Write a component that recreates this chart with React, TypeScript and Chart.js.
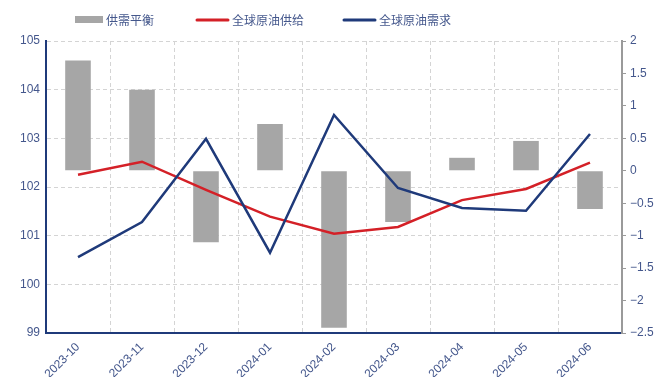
import React, { useEffect, useRef } from 'react';
import { Chart, registerables } from 'chart.js';

Chart.register(...registerables);

const categories = ['2023-10', '2023-11', '2023-12', '2024-01', '2024-02', '2024-03', '2024-04', '2024-05', '2024-06'];
const balance = [1.7, 1.25, -1.1, 0.72, -2.42, -0.79, 0.2, 0.46, -0.59];
const supply = [102.25, 102.52, 101.94, 101.39, 101.04, 101.18, 101.73, 101.96, 102.5];
const demand = [100.56, 101.28, 102.99, 100.65, 103.48, 101.98, 101.57, 101.51, 103.09];
const seriesNames = ['供需平衡', '全球原油供给', '全球原油需求'];

const TICK_COLOR = '#44578c';
const NAVY = '#1f3a7a';
const RED = '#d42027';
const GRAY_BAR = '#a6a6a6';
const GRID = '#d4d4d4';

const legendPlugin = {
  id: 'customLegend',
  afterDraw(chart: any) {
    const ctx = chart.ctx;
    const ds = chart.data.datasets;
    const items = [
      { sx: 75, tx: 106, kind: 'box' },
      { sx: 197, tx: 232, kind: 'line' },
      { sx: 344, tx: 379, kind: 'line' },
    ];
    ctx.save();
    ctx.font = '12px "Noto Sans CJK SC", sans-serif';
    ctx.textBaseline = 'middle';
    ctx.textAlign = 'left';
    items.forEach((it, i) => {
      const d = ds[i];
      if (it.kind === 'box') {
        ctx.fillStyle = d.backgroundColor;
        ctx.fillRect(it.sx, 16, 28, 7);
      } else {
        ctx.strokeStyle = d.borderColor;
        ctx.lineWidth = 3;
        ctx.lineCap = 'round';
        ctx.beginPath();
        ctx.moveTo(it.sx, 20);
        ctx.lineTo(it.sx + 31, 20);
        ctx.stroke();
      }
      ctx.fillStyle = TICK_COLOR;
      ctx.fillText(d.label, it.tx, 20);
    });
    ctx.restore();
  },
};

const fmt = (v: any) => String(Number(v)).replace('-', '−');

export default function App() {
  const ref = useRef<HTMLCanvasElement>(null);
  useEffect(() => {
    if (!ref.current) return;
    const tickFont = { family: 'Arial, "Liberation Sans", sans-serif', size: 12 };
    const chart = new Chart(ref.current, {
      type: 'bar',
      data: {
        labels: categories,
        datasets: [
          {
            type: 'bar',
            label: seriesNames[0],
            data: balance,
            yAxisID: 'y1',
            backgroundColor: GRAY_BAR,
            borderWidth: 0,
            categoryPercentage: 0.8,
            barPercentage: 0.5,
            order: 2,
          },
          {
            type: 'line',
            label: seriesNames[1],
            data: supply,
            yAxisID: 'y',
            borderColor: RED,
            backgroundColor: RED,
            borderWidth: 2.5,
            pointRadius: 0,
            tension: 0,
            order: 1,
          },
          {
            type: 'line',
            label: seriesNames[2],
            data: demand,
            yAxisID: 'y',
            borderColor: NAVY,
            backgroundColor: NAVY,
            borderWidth: 2.5,
            pointRadius: 0,
            tension: 0,
            order: 0,
          },
        ] as any,
      },
      options: {
        animation: false,
        responsive: true,
        maintainAspectRatio: false,
        layout: { padding: { top: 41, left: 0, right: 0, bottom: 0 } },
        plugins: {
          legend: { display: false },
          tooltip: { enabled: false },
        },
        scales: {
          x: {
            offset: true,
            grid: {
              offset: true,
              color: GRID,
              lineWidth: 1,
              drawTicks: false,
            },
            border: { display: true, color: NAVY, width: 2, dash: [4, 3] },
            ticks: {
              color: TICK_COLOR,
              font: { ...tickFont, size: 12 },
              minRotation: 45,
              maxRotation: 45,
              autoSkip: false,
              padding: 7,
            },
            afterFit(scale: any) {
              scale.height = 44;
            },
          },
          y: {
            position: 'left',
            min: 99,
            max: 105,
            ticks: { stepSize: 1, color: TICK_COLOR, font: tickFont, padding: 6 },
            grid: {
              color: GRID,
              drawTicks: false,
            },
            border: { display: true, color: NAVY, width: 2, dash: [4, 3] },
            afterFit(scale: any) {
              scale.width = 46;
            },
          },
          y1: {
            position: 'right',
            min: -2.5,
            max: 2,
            ticks: {
              stepSize: 0.5,
              color: TICK_COLOR,
              font: tickFont,
              padding: 4,
              callback: (v: any) => fmt(v),
            },
            grid: {
              drawOnChartArea: false,
              drawTicks: true,
              tickLength: 4,
              tickColor: '#9a9a9a',
            },
            border: { display: true, color: '#9a9a9a', width: 2 },
            afterFit(scale: any) {
              scale.width = 43;
            },
          },
        },
      } as any,
      plugins: [legendPlugin],
    });
    return () => chart.destroy();
  }, []);

  return (
    <div style={{ position: 'absolute', left: 0, top: 0, width: 665, height: 377, background: '#fff' }}>
      <canvas ref={ref} />
    </div>
  );
}
